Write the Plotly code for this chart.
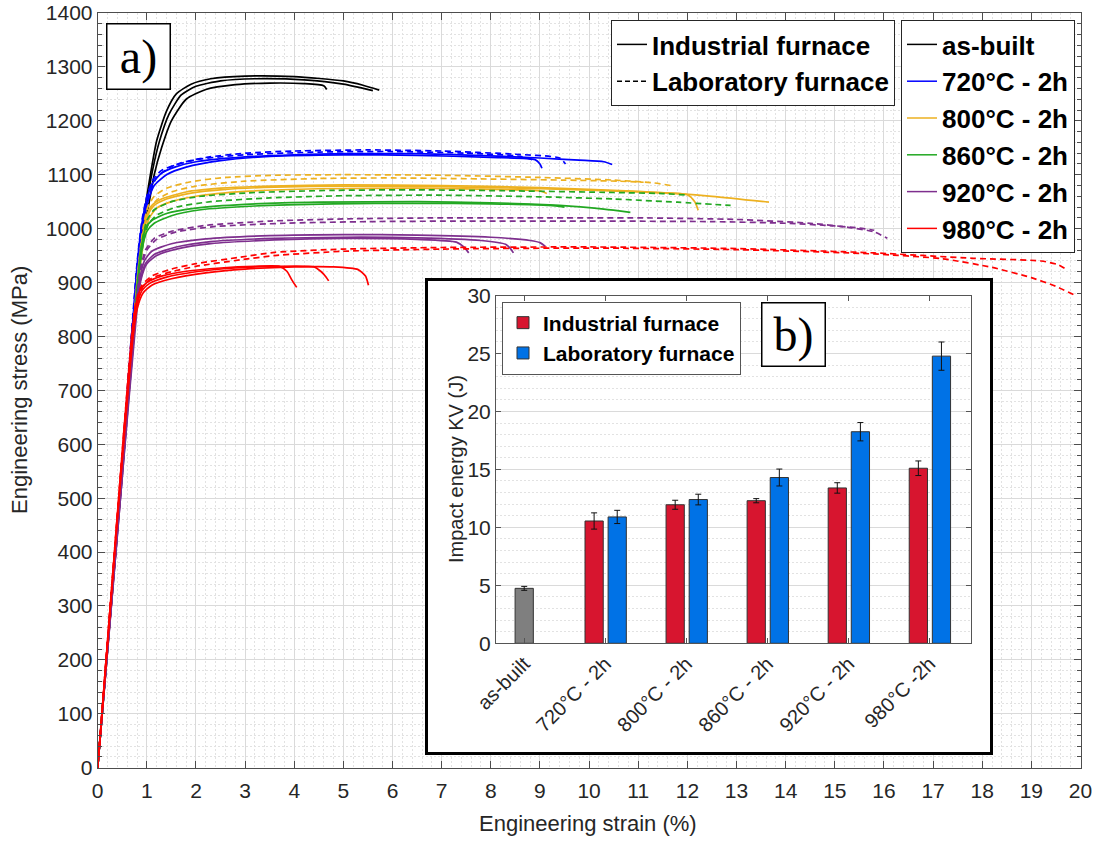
import plotly.graph_objects as go

W, H = 1099, 841

# ------------------------------------------------------------------
# Tensile curves (engineering strain %, engineering stress MPa)
# ------------------------------------------------------------------
AB_STRAIN = [
    [0, 0.5, 0.86, 1.0, 1.1, 1.2, 1.4, 1.6, 1.9, 2.3, 3.0, 4.0, 5.0, 5.4, 5.73],
    [0, 0.5, 0.88, 1.02, 1.12, 1.25, 1.45, 1.7, 2.0, 2.5, 3.2, 4.2, 5.0, 5.6],
    [0, 0.5, 0.9, 1.05, 1.15, 1.3, 1.5, 1.8, 2.2, 2.8, 3.5, 4.2, 4.6, 4.66],
]
AB_STRESS = [
    [0, 560, 975, 1060, 1115, 1163, 1218, 1250, 1268, 1278, 1283, 1282, 1274, 1266, 1257],
    [0, 555, 980, 1060, 1110, 1160, 1212, 1248, 1264, 1274, 1278, 1276, 1268, 1256],
    [0, 550, 975, 1050, 1100, 1150, 1200, 1240, 1258, 1267, 1270, 1269, 1265, 1258],
]
AB_DASH = [False, False, False]

T720_STRAIN = [
    [0, 0.5, 0.8, 0.9, 1.0, 1.1, 1.3, 1.6, 2.0, 3.0, 4.0, 5.0, 6.5, 8.0, 9.0, 9.8, 10.3, 10.47],
    [0, 0.5, 0.82, 0.92, 1.02, 1.15, 1.4, 1.8, 2.5, 3.5, 5.0, 6.5, 8.0, 8.9, 9.0, 9.04],
    [0, 0.5, 0.8, 0.9, 1.0, 1.12, 1.3, 1.7, 2.2, 3.0, 4.0, 5.5, 7.0, 8.5, 9.4, 9.52],
    [0, 0.5, 0.82, 0.93, 1.05, 1.2, 1.5, 2.0, 3.0, 4.5, 6.0, 7.5, 8.6, 8.9],
]
T720_STRESS = [
    [0, 570, 930, 1010, 1055, 1082, 1103, 1115, 1124, 1133, 1137, 1139, 1139, 1135, 1131, 1127, 1124, 1119],
    [0, 565, 940, 1010, 1050, 1080, 1100, 1114, 1126, 1134, 1137, 1136, 1132, 1128, 1120, 1112],
    [0, 575, 935, 1015, 1060, 1090, 1108, 1122, 1132, 1140, 1144, 1146, 1144, 1138, 1131, 1120],
    [0, 570, 945, 1020, 1065, 1095, 1115, 1128, 1137, 1142, 1143, 1140, 1134, 1126],
]
T720_DASH = [False, False, True, True]

T800_STRAIN = [
    [0, 0.5, 0.8, 0.9, 1.0, 1.1, 1.3, 1.8, 2.5, 3.5, 5.0, 7.0, 9.0, 11.0, 12.5, 13.66],
    [0, 0.5, 0.82, 0.92, 1.02, 1.15, 1.4, 1.9, 2.6, 3.6, 5.0, 7.0, 9.0, 11.0, 12.0, 12.15, 12.22],
    [0, 0.5, 0.84, 0.95, 1.05, 1.2, 1.5, 2.0, 3.0, 4.5, 6.5, 8.5, 9.0, 9.14],
    [0, 0.5, 0.82, 0.92, 1.02, 1.15, 1.4, 1.9, 2.6, 3.6, 5.0, 7.0, 9.0, 10.5, 11.3, 11.66],
    [0, 0.5, 0.84, 0.94, 1.05, 1.2, 1.5, 2.0, 3.0, 4.5, 6.0, 8.0, 9.5, 10.6, 11.11],
]
T800_STRESS = [
    [0, 560, 900, 980, 1025, 1043, 1055, 1068, 1075, 1079, 1081, 1080, 1076, 1069, 1060, 1049],
    [0, 555, 905, 985, 1025, 1043, 1055, 1066, 1073, 1077, 1079, 1078, 1074, 1068, 1063, 1050, 1034],
    [0, 550, 910, 985, 1020, 1038, 1050, 1060, 1069, 1074, 1075, 1072, 1070, 1065],
    [0, 565, 920, 1000, 1040, 1060, 1075, 1087, 1095, 1099, 1100, 1099, 1095, 1090, 1085, 1080],
    [0, 560, 925, 1000, 1035, 1053, 1068, 1079, 1088, 1093, 1094, 1092, 1090, 1088, 1086],
]
T800_DASH = [False, False, False, True, True]

T860_STRAIN = [
    [0, 0.5, 0.8, 0.88, 0.97, 1.1, 1.4, 2.0, 3.0, 4.5, 6.5, 8.0, 9.4, 10.3, 10.84],
    [0, 0.5, 0.82, 0.9, 1.0, 1.15, 1.5, 2.1, 3.2, 4.8, 6.5, 8.0, 9.2, 9.5],
    [0, 0.5, 0.82, 0.9, 1.0, 1.15, 1.5, 2.1, 3.2, 4.8, 6.5, 8.5, 10.5, 11.5, 12.03],
    [0, 0.5, 0.84, 0.93, 1.03, 1.2, 1.6, 2.3, 3.5, 5.0, 7.0, 9.0, 10.5, 11.8, 12.88],
]
T860_STRESS = [
    [0, 555, 890, 960, 1000, 1015, 1028, 1038, 1045, 1049, 1050, 1048, 1043, 1036, 1030],
    [0, 550, 895, 960, 995, 1010, 1024, 1035, 1042, 1046, 1047, 1046, 1043, 1040],
    [0, 560, 905, 975, 1015, 1035, 1050, 1060, 1067, 1071, 1072, 1070, 1067, 1065, 1062],
    [0, 555, 910, 975, 1008, 1025, 1040, 1050, 1057, 1061, 1062, 1059, 1055, 1049, 1043],
]
T860_DASH = [False, False, True, True]

T920_STRAIN = [
    [0, 0.5, 0.76, 0.84, 0.95, 1.1, 1.5, 2.2, 3.5, 5.0, 6.5, 8.0, 8.8, 9.0, 9.11],
    [0, 0.5, 0.78, 0.86, 0.97, 1.15, 1.6, 2.3, 3.6, 5.0, 6.5, 7.8, 8.3, 8.4, 8.46],
    [0, 0.5, 0.8, 0.88, 1.0, 1.2, 1.6, 2.3, 3.6, 5.0, 6.5, 7.3, 7.45, 7.55],
    [0, 0.5, 0.78, 0.86, 0.97, 1.15, 1.5, 2.2, 3.5, 5.0, 7.0, 9.0, 11.0, 13.0, 14.5, 15.3, 15.8, 16.07],
    [0, 0.5, 0.8, 0.88, 1.0, 1.2, 1.6, 2.4, 3.8, 5.5, 7.5, 10.0, 12.5, 14.0, 15.0, 15.5, 15.8],
]
T920_STRESS = [
    [0, 545, 840, 900, 940, 958, 972, 981, 987, 989, 988, 984, 978, 974, 967],
    [0, 540, 845, 900, 935, 952, 966, 976, 982, 984, 983, 978, 971, 963, 955],
    [0, 540, 850, 905, 935, 950, 962, 972, 979, 982, 980, 975, 966, 955],
    [0, 550, 860, 920, 960, 982, 995, 1006, 1014, 1018, 1020, 1020, 1020, 1017, 1010, 1002, 994, 982],
    [0, 545, 865, 925, 960, 980, 994, 1004, 1010, 1013, 1014, 1014, 1013, 1010, 1005, 1001, 997],
]
T920_DASH = [False, False, False, True, True]

T980_STRAIN = [
    [0, 0.4, 0.68, 0.76, 0.86, 1.0, 1.3, 1.8, 2.5, 3.2, 3.7, 3.85, 3.95, 4.05],
    [0, 0.4, 0.7, 0.78, 0.9, 1.05, 1.4, 2.0, 2.8, 3.6, 4.4, 4.55, 4.65, 4.70],
    [0, 0.4, 0.72, 0.8, 0.92, 1.1, 1.5, 2.2, 3.0, 4.0, 4.8, 5.3, 5.45, 5.51],
    [0, 0.4, 0.7, 0.78, 0.9, 1.1, 1.5, 2.0, 2.9, 3.6, 5.0, 7.0, 10.0, 13.0, 15.8, 17.8, 19.2, 19.55, 19.7],
    [0, 0.4, 0.72, 0.8, 0.92, 1.1, 1.5, 2.0, 2.9, 3.6, 5.0, 7.0, 10.0, 13.0, 15.8, 17.2, 18.2, 19.0, 19.5, 19.87],
]
T980_STRESS = [
    [0, 470, 790, 850, 885, 900, 912, 921, 927, 930, 930, 921, 905, 891],
    [0, 465, 795, 850, 885, 898, 910, 920, 927, 930, 929, 920, 910, 903],
    [0, 460, 800, 850, 880, 895, 907, 918, 925, 929, 929, 924, 912, 895],
    [0, 470, 810, 865, 895, 912, 925, 935, 947, 956, 962, 965, 966, 963, 955, 945, 940, 933, 925],
    [0, 465, 812, 862, 892, 908, 920, 930, 942, 950, 958, 962, 964, 961, 953, 944, 928, 909, 893, 877],
]
T980_DASH = [False, False, False, True, True]

CONDITIONS = ["as-built", "720°C - 2h", "800°C - 2h", "860°C - 2h", "920°C - 2h", "980°C - 2h"]
FURNACES = ["Industrial furnace", "Laboratory furnace"]

# ------------------------------------------------------------------
# Impact energy (Charpy KV, J)
# ------------------------------------------------------------------
BAR_LABELS = ["as-built", "720°C - 2h", "800°C - 2h", "860°C - 2h", "920°C - 2h", "980°C -2h"]
ASBUILT_KV = [4.74]
ASBUILT_ERR = [0.17]
IND_KV = [10.55, 11.95, 12.3, 13.4, 15.1]
IND_ERR = [0.7, 0.39, 0.18, 0.45, 0.63]
LAB_KV = [10.9, 12.4, 14.3, 18.25, 24.77]
LAB_ERR = [0.57, 0.46, 0.73, 0.79, 1.22]

# ------------------------------------------------------------------
FONT = "Liberation Sans, Arial, sans-serif"
SERIF = "Liberation Serif, Times New Roman, serif"
TXT = "#262626"
AXC = "#4d4d4d"
GRID = "#dadada"
MGRID = "#e2e2e2"
COLORS = ["#000000", "#0000FF", "#EDB120", "#22A822", "#7E2F8E", "#FF0000"]
DASH = "6px,4px"


def px_x(p):
    return p / W


def px_y(p):
    return 1 - p / H


fig = go.Figure()

groups = [
    (AB_STRAIN, AB_STRESS, AB_DASH),
    (T720_STRAIN, T720_STRESS, T720_DASH),
    (T800_STRAIN, T800_STRESS, T800_DASH),
    (T860_STRAIN, T860_STRESS, T860_DASH),
    (T920_STRAIN, T920_STRESS, T920_DASH),
    (T980_STRAIN, T980_STRESS, T980_DASH),
]
for color, (sx, sy, dd) in zip(COLORS, groups):
    for xs, ys, d in zip(sx, sy, dd):
        fig.add_trace(go.Scatter(
            x=xs, y=ys, mode="lines",
            line=dict(color=color, width=1.7, dash=DASH if d else "solid", shape="spline", smoothing=0.6),
            showlegend=False, hoverinfo="skip", xaxis="x", yaxis="y"))

# legend entries (line style)
for name, d in zip(FURNACES, [False, True]):
    fig.add_trace(go.Scatter(
        x=[None], y=[None], mode="lines", name=name,
        line=dict(color="black", width=1.5, dash="5px,3px" if d else "solid"),
        legend="legend", xaxis="x", yaxis="y"))
# legend entries (condition colours)
for name, c in zip(CONDITIONS, COLORS):
    fig.add_trace(go.Scatter(
        x=[None], y=[None], mode="lines", name=name,
        line=dict(color=c, width=1.5), legend="legend2", xaxis="x", yaxis="y"))

# inset frame subplot (x2/y2)
fig.add_trace(go.Scatter(x=[None], y=[None], mode="lines", showlegend=False,
                         hoverinfo="skip", xaxis="x2", yaxis="y2"))

# inset bars (x3/y3)
fig.add_trace(go.Bar(
    x=[1], y=ASBUILT_KV, width=[0.225], offset=[-0.1125],
    marker=dict(color="#7f7f7f", line=dict(color="#333333", width=1)),
    error_y=dict(type="data", array=ASBUILT_ERR, color="#111111", thickness=1, width=3),
    showlegend=False, hoverinfo="skip", xaxis="x3", yaxis="y3"))
fig.add_trace(go.Bar(
    x=[2, 3, 4, 5, 6], y=IND_KV, width=0.225, offset=-0.25, name=FURNACES[0],
    marker=dict(color="#D7152F", line=dict(color="#333333", width=1)),
    error_y=dict(type="data", array=IND_ERR, color="#111111", thickness=1, width=3),
    legend="legend3", xaxis="x3", yaxis="y3"))
fig.add_trace(go.Bar(
    x=[2, 3, 4, 5, 6], y=LAB_KV, width=0.225, offset=0.035, name=FURNACES[1],
    marker=dict(color="#0072E6", line=dict(color="#333333", width=1)),
    error_y=dict(type="data", array=LAB_ERR, color="#111111", thickness=1, width=3),
    legend="legend3", xaxis="x3", yaxis="y3"))

main_dom_x = [px_x(97.7), px_x(1080.5)]
main_dom_y = [px_y(767.7), px_y(13)]
box_dom_x = [px_x(428), px_x(990)]
box_dom_y = [px_y(752), px_y(281)]
ins_dom_x = [px_x(496), px_x(971)]
ins_dom_y = [px_y(643.3), px_y(295.5)]

leg_font = dict(family=FONT, size=26, color="black", weight="bold")

fig.update_layout(
    width=W, height=H,
    margin=dict(l=0, r=0, t=0, b=0, autoexpand=False),
    paper_bgcolor="white", plot_bgcolor="white",
    barmode="overlay",
    font=dict(family=FONT, color=TXT),
    xaxis=dict(
        domain=main_dom_x, range=[0, 20], dtick=1, tick0=0, automargin=False,
        showline=True, linecolor=AXC, linewidth=1, mirror="ticks",
        ticks="inside", ticklen=7, tickcolor=AXC, ticklabelstandoff=4,
        showgrid=True, gridcolor=GRID, gridwidth=1, zeroline=False,
        tickfont=dict(size=21, color=TXT, family=FONT),
        minor=dict(dtick=0.2, showgrid=True, gridcolor=MGRID, griddash="2px,2px", ticks=""),
        anchor="y", fixedrange=True),
    yaxis=dict(
        domain=main_dom_y, range=[0, 1400], dtick=100, tick0=0, automargin=False,
        showline=True, linecolor=AXC, linewidth=1, mirror="ticks",
        ticks="inside", ticklen=7, tickcolor=AXC,
        showgrid=True, gridcolor=GRID, gridwidth=1, zeroline=False,
        tickfont=dict(size=21, color=TXT, family=FONT),
        minor=dict(dtick=20, showgrid=True, gridcolor=MGRID, griddash="2px,2px",
                   ticks="inside", ticklen=4, tickcolor=AXC),
        anchor="x", fixedrange=True),
    xaxis2=dict(domain=box_dom_x, range=[0, 1], showline=True, linecolor="black", linewidth=3,
                mirror=True, showgrid=False, zeroline=False, showticklabels=False, ticks="",
                anchor="y2", fixedrange=True, automargin=False),
    yaxis2=dict(domain=box_dom_y, range=[0, 1], showline=True, linecolor="black", linewidth=3,
                mirror=True, showgrid=False, zeroline=False, showticklabels=False, ticks="",
                anchor="x2", fixedrange=True, automargin=False),
    xaxis3=dict(
        domain=ins_dom_x, range=[0.652, 6.512], automargin=False,
        tickmode="array", tickvals=[1, 2, 3, 4, 5, 6], ticktext=BAR_LABELS, tickangle=-45,
        showline=True, linecolor="#555555", linewidth=1, mirror="ticks",
        ticks="inside", ticklen=5, tickcolor="#555555",
        showgrid=False, zeroline=False,
        tickfont=dict(size=20, color=TXT, family=FONT),
        anchor="y3", fixedrange=True),
    yaxis3=dict(
        domain=ins_dom_y, range=[0, 30], dtick=5, tick0=0, automargin=False,
        showline=True, linecolor="#555555", linewidth=1, mirror="ticks",
        ticks="inside", ticklen=5, tickcolor="#555555",
        showgrid=True, gridcolor=GRID, zeroline=False,
        tickfont=dict(size=21, color=TXT, family=FONT),
        minor=dict(dtick=1, showgrid=True, gridcolor=MGRID, griddash="2px,2px", ticks=""),
        anchor="x3", fixedrange=True),
    legend=dict(x=px_x(895), xanchor="right", y=px_y(20), yanchor="top",
                bgcolor="white", bordercolor=TXT, borderwidth=1, font=leg_font,
                itemwidth=30, tracegroupgap=0),
    legend2=dict(x=px_x(1075), xanchor="right", y=px_y(20), yanchor="top",
                 bgcolor="white", bordercolor=TXT, borderwidth=1, font=leg_font,
                 itemwidth=30, tracegroupgap=0),
    legend3=dict(x=px_x(502), xanchor="left", y=px_y(301.5), yanchor="top",
                 bgcolor="white", bordercolor="#555555", borderwidth=1,
                 font=dict(family=FONT, size=21, color="black", weight="bold"),
                 itemwidth=30, tracegroupgap=0),
    annotations=[
        dict(text="Engineering stress (MPa)", xref="paper", yref="paper",
             x=px_x(19), y=px_y(390), textangle=-90, showarrow=False,
             font=dict(size=22, color=TXT, family=FONT), xanchor="center", yanchor="middle"),
        dict(text="Engineering strain (%)", xref="paper", yref="paper",
             x=px_x(588), y=px_y(823), showarrow=False,
             font=dict(size=22, color=TXT, family=FONT), xanchor="center", yanchor="middle"),
        dict(text="Impact energy KV (J)", xref="paper", yref="paper",
             x=px_x(456), y=px_y(469), textangle=-90, showarrow=False,
             font=dict(size=20, color=TXT, family=FONT), xanchor="center", yanchor="middle"),
        dict(text="a)", xref="paper", yref="paper", x=px_x(138), y=px_y(56),
             showarrow=False, font=dict(size=48, color="black", family=SERIF),
             bgcolor="white", bordercolor="black", borderwidth=1.5, borderpad=0,
             width=62, height=64, xanchor="center", yanchor="middle"),
        dict(text="b)", xref="paper", yref="paper", x=px_x(793.5), y=px_y(334.5),
             showarrow=False, font=dict(size=48, color="black", family=SERIF),
             bgcolor="white", bordercolor="black", borderwidth=1.5, borderpad=0,
             width=62, height=62, xanchor="center", yanchor="middle"),
    ],
)

fig.write_html("out.html", config={"displayModeBar": False})
